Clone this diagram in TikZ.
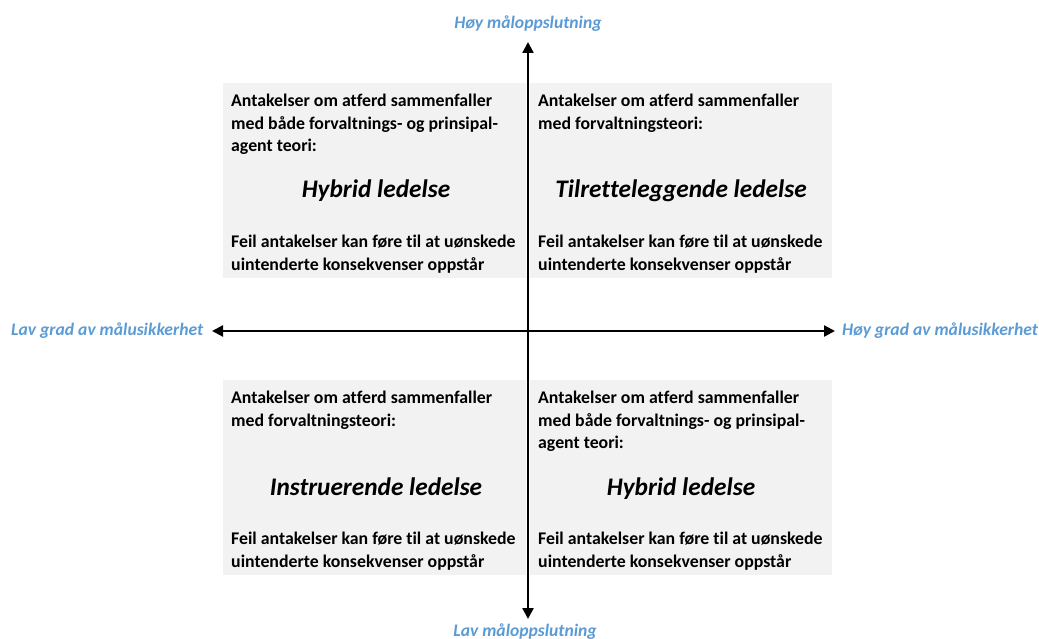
\documentclass[tikz,border=0pt]{standalone}
\usepackage{fontspec}
\setmainfont{Carlito}[Ligatures=NoCommon]
\usetikzlibrary{arrows.meta}
\definecolor{quadfill}{HTML}{F2F2F2}
\definecolor{axisblue}{HTML}{5B9BD5}
\begin{document}
\begin{tikzpicture}[x=1pt,y=-1pt,
  quad/.style={fill=quadfill,draw=none},
  desc/.style={anchor=north west,align=left,inner sep=0pt,
    font=\fontsize{17.8}{22.4}\selectfont\bfseries},
  title/.style={anchor=base,inner sep=0pt,
    font=\fontsize{25.3}{30}\selectfont\bfseries\itshape},
  axislabel/.style={anchor=base,inner sep=0pt,text=axisblue,
    font=\fontsize{17.6}{20}\selectfont\bfseries\itshape},
  axisline/.style={line width=2.3pt,{Triangle[length=11pt,width=11pt]}-{Triangle[length=11pt,width=11pt]}}]
\useasboundingbox (0,0) rectangle (1039,639);

% quadrant backgrounds
\fill[quad] (223,83) rectangle (526,278);
\fill[quad] (530,83) rectangle (832,278);
\fill[quad] (223,380) rectangle (526,575);
\fill[quad] (530,380) rectangle (832,575);

% upper left
\node[desc] (tlA) at (231,94) {Antakelser om atferd sammenfaller\\med både forvaltnings- og prinsipal-\\agent teori:};
\node[title] (tlT) at (376,198) {Hybrid ledelse};
\node[desc] (tlB) at (231,235) {Feil antakelser kan føre til at uønskede\\uintenderte konsekvenser oppstår};

% upper right
\node[desc] (trA) at (538,94) {Antakelser om atferd sammenfaller\\med forvaltningsteori:};
\node[title] (trT) at (681,198) {Tilretteleggende ledelse};
\node[desc] (trB) at (538,235) {Feil antakelser kan føre til at uønskede\\uintenderte konsekvenser oppstår};

% lower left
\node[desc] (blA) at (231,391) {Antakelser om atferd sammenfaller\\med forvaltningsteori:};
\node[title] (blT) at (376,495) {Instruerende ledelse};
\node[desc] (blB) at (231,532) {Feil antakelser kan føre til at uønskede\\uintenderte konsekvenser oppstår};

% lower right
\node[desc] (brA) at (538,391) {Antakelser om atferd sammenfaller\\med både forvaltnings- og prinsipal-\\agent teori:};
\node[title] (brT) at (681,495) {Hybrid ledelse};
\node[desc] (brB) at (538,532) {Feil antakelser kan føre til at uønskede\\uintenderte konsekvenser oppstår};

% axes
\coordinate (north) at (528,42);
\coordinate (south) at (528,619);
\coordinate (west) at (212,331);
\coordinate (east) at (835,331);
\draw[axisline] (south) -- (north);
\draw[axisline] (west) -- (east);

% axis labels
\node[axislabel] (topL) at (528,29) {Høy måloppslutning};
\node[axislabel] (botL) at (525,636) {Lav måloppslutning};
\node[axislabel,anchor=base west] (leftL) at (11,335) {Lav grad av målusikkerhet};
\node[axislabel,anchor=base west] (rightL) at (842,335) {Høy grad av målusikkerhet};
\end{tikzpicture}
\end{document}
